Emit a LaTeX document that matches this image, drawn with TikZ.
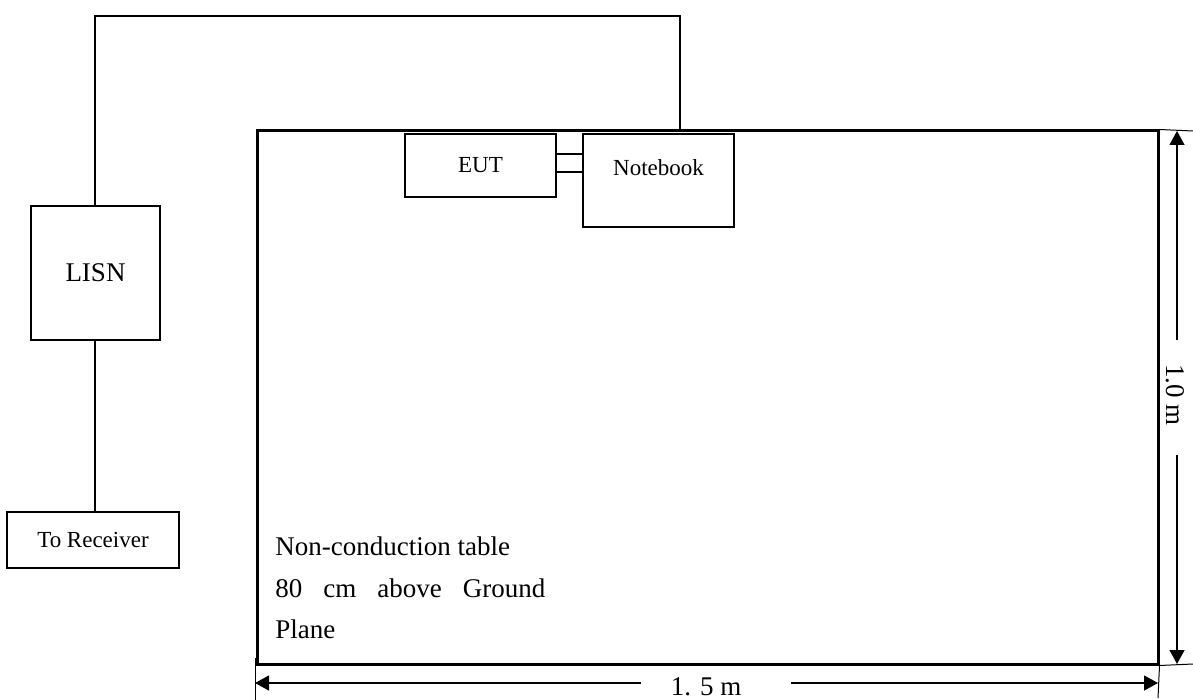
\documentclass[tikz,border=0pt]{standalone}
\usepackage{fontspec}
\setmainfont{Liberation Serif}
\usetikzlibrary{arrows.meta}
\begin{document}
\begin{tikzpicture}[x=0.5pt,y=-0.5pt,
  box/.style={draw, line width=1pt, rectangle, inner sep=0pt, fill=white},
  smallfont/.style={font=\fontsize{11.5}{14}\selectfont},
  bigfont/.style={font=\fontsize{13.5}{16}\selectfont},
  wire/.style={line width=1pt},
  cable/.style={line width=1.4pt},
  thin/.style={line width=0.5pt},
  dimarrow/.style={line width=0.6pt, -{Triangle[length=7pt,width=7.5pt]}},
  txt/.style={inner sep=0pt, anchor=base west, bigfont}]
\useasboundingbox (0,0) rectangle (1193,700);

% table
\node[draw, line width=1.5pt, rectangle, inner sep=0pt, minimum width=450.5pt, minimum height=266.5pt] (table) at (707.5,397.5) {};

% devices
\node[box, smallfont, minimum width=75.5pt, minimum height=31.5pt] (eut) at (480.5,165.5) {EUT};
\node[box, minimum width=75.5pt, minimum height=46.5pt] (nb) at (658.5,180.5) {};
\node[smallfont, inner sep=0pt] (nbtext) at (658.5,168) {Notebook};
\node[box, bigfont, minimum width=64.5pt, minimum height=67pt] (lisn) at (95.5,273) {LISN};
\node[box, smallfont, minimum width=86pt, minimum height=28pt] (rx) at (93,540) {To Receiver};

% EUT - notebook cables
\draw[cable] (eut.east |- 0,154) -- (nb.west |- 0,154);
\draw[cable] (eut.east |- 0,172) -- (nb.west |- 0,172);

% power wire
\coordinate (w1) at (680,131);
\coordinate (w2) at (680,16);
\coordinate (w3) at (95,16);
\draw[wire] (w1) -- (w2) -- (w3) -- (w3 |- lisn.north);
\draw[wire] (w3 |- lisn.south) -- (w3 |- rx.north);

% table text
\node[txt] (t1) at (275,555) {Non-conduction table};
\node[txt] (t2) at (275,597) {80\hspace{10.5pt}cm\hspace{10.5pt}above\hspace{10.5pt}Ground};
\node[txt] (t3) at (275,638) {Plane};

% dimension extension lines
\coordinate (e1) at (1193,131);
\coordinate (e2) at (1193,664);
\draw[thin] (table.north east) -- (e1);
\draw[thin] (table.south east) -- (e2);
\coordinate (e3) at (1158,698);
\draw[thin] (table.south east) -- (e3);
\coordinate (e4) at (255,658);
\coordinate (e5) at (255,700);
\draw[thin] (e4) -- (e5);

% horizontal dimension
\node[bigfont, inner sep=0pt] (dimh) at (706,687) {1. 5 m};
\coordinate (h1) at (641,683);
\coordinate (h2) at (791,683);
\coordinate (hl) at (255,683);
\coordinate (hr) at (1158,683);
\draw[dimarrow] (h1) -- (hl);
\draw[dimarrow] (h2) -- (hr);

% vertical dimension
\node[bigfont, inner sep=0pt, rotate=-90] (dimv) at (1175,395) {1.0 m};
\coordinate (v1) at (1177,340);
\coordinate (v2) at (1177,455);
\coordinate (vt) at (1177,131);
\coordinate (vb) at (1177,664);
\draw[dimarrow] (v1) -- (vt);
\draw[dimarrow] (v2) -- (vb);
\end{tikzpicture}
\end{document}
